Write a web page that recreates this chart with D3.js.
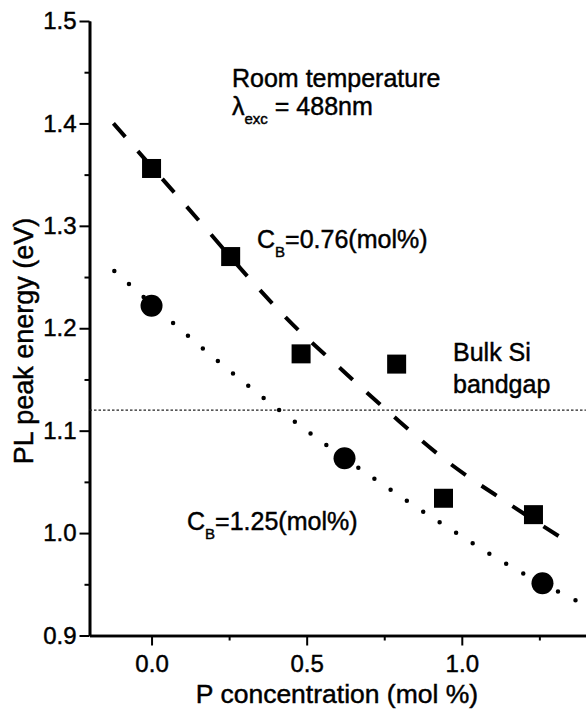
<!DOCTYPE html>
<html lang="en">
  <head>
    <meta charset="UTF-8" />
    <title>PL peak energy</title>
    <style>
      body { margin: 0; background: #fff; }
      svg text {
        font-family: "Liberation Sans", Arial, sans-serif;
        fill: #000;
        stroke: #000;
        stroke-width: 0.45px;
      }
    </style>
  </head>
  <body>
    <script src="https://d3js.org/d3.v7.min.js"></script>
    <script>
      // C_B = 0.76 mol% (squares)
      const pConcSquares = [0.0, 0.255, 0.482, 0.79, 0.941, 1.231];
      const peakSquares = [1.356, 1.27, 1.175, 1.165, 1.034, 1.018];
      // C_B = 1.25 mol% (circles)
      const pConcCircles = [0.0, 0.622, 1.26];
      const peakCircles = [1.222, 1.073, 0.951];

      // fit curves
      const fitDashX = [-0.123, 0.156, 0.326, 0.457, 0.597, 0.78, 0.957, 1.15, 1.328];
      const fitDashY = [1.4, 1.304, 1.245, 1.203, 1.164, 1.114, 1.069, 1.029, 0.994];
      const fitDotX = [-0.12, 0.186, 0.395, 0.55, 0.704, 0.962, 1.166, 1.376];
      const fitDotY = [1.256, 1.175, 1.124, 1.089, 1.056, 1.004, 0.966, 0.933];

      const bulkSiGap = 1.12;

      const xTicks = [0.0, 0.5, 1.0];
      const xMinorTicks = [0.25, 0.75, 1.25];
      const yTicks = [0.9, 1.0, 1.1, 1.2, 1.3, 1.4, 1.5];
      const yMinorTicks = [0.95, 1.05, 1.15, 1.25, 1.35, 1.45];

      const width = 586;
      const height = 717;

      const svg = d3
        .select("body")
        .append("svg")
        .attr("width", width)
        .attr("height", height);

      const x = d3.scaleLinear().domain([-0.2, 1.4]).range([89.5, 585.9]);
      const y = d3.scaleLinear().domain([0.9, 1.5]).range([635.5, 21]);

      // axes
      const styleAxis = (g) => {
        g.selectAll(".domain").attr("stroke-width", 2.6);
        g.selectAll(".tick line").attr("stroke-width", 2);
        g.selectAll("text").attr("font-size", 24).attr("font-family", null);
      };

      svg
        .append("g")
        .attr("transform", `translate(0, ${y(0.9)})`)
        .call(d3.axisBottom(x).tickValues(xMinorTicks).tickSize(5).tickFormat("").tickSizeOuter(0))
        .call(styleAxis);
      svg
        .append("g")
        .attr("transform", `translate(0, ${y(0.9)})`)
        .call(d3.axisBottom(x).tickValues(xTicks).tickSize(10).tickPadding(9).tickSizeOuter(0).tickFormat(d3.format(".1f")))
        .call(styleAxis);

      svg
        .append("g")
        .attr("transform", `translate(${x(-0.2)}, 0)`)
        .call(d3.axisLeft(y).tickValues(yMinorTicks).tickSize(5).tickFormat("").tickSizeOuter(0))
        .call(styleAxis);
      svg
        .append("g")
        .attr("transform", `translate(${x(-0.2)}, 0)`)
        .call(d3.axisLeft(y).tickValues(yTicks).tickSize(10).tickPadding(3).tickSizeOuter(0).tickFormat(d3.format(".1f")))
        .call(styleAxis);

      // bulk Si bandgap reference
      svg
        .append("line")
        .attr("x1", x(-0.2))
        .attr("x2", x(1.4))
        .attr("y1", y(bulkSiGap))
        .attr("y2", y(bulkSiGap))
        .attr("stroke", "#222")
        .attr("stroke-width", 1.2)
        .attr("stroke-dasharray", "2.5,2");

      // fit curves
      const line = d3
        .line()
        .x((d) => x(d[0]))
        .y((d) => y(d[1]))
        .curve(d3.curveMonotoneX);

      svg
        .append("path")
        .datum(d3.zip(fitDashX, fitDashY))
        .attr("d", line)
        .attr("fill", "none")
        .attr("stroke", "#000")
        .attr("stroke-width", 4)
        .attr("stroke-dasharray", "18,19");

      svg
        .append("path")
        .datum(d3.zip(fitDotX, fitDotY))
        .attr("d", line)
        .attr("fill", "none")
        .attr("stroke", "#000")
        .attr("stroke-width", 4.5)
        .attr("stroke-linecap", "round")
        .attr("stroke-dasharray", "0,19.6");

      // markers
      const sq = 19;
      svg
        .append("g")
        .selectAll("rect")
        .data(d3.zip(pConcSquares, peakSquares))
        .join("rect")
        .attr("x", (d) => x(d[0]) - sq / 2)
        .attr("y", (d) => y(d[1]) - sq / 2)
        .attr("width", sq)
        .attr("height", sq)
        .attr("fill", "#000");

      svg
        .append("g")
        .selectAll("circle")
        .data(d3.zip(pConcCircles, peakCircles))
        .join("circle")
        .attr("cx", (d) => x(d[0]))
        .attr("cy", (d) => y(d[1]))
        .attr("r", 11)
        .attr("fill", "#000");

      // axis titles
      svg
        .append("text")
        .attr("x", 337)
        .attr("y", 703)
        .attr("text-anchor", "middle")
        .attr("font-size", 26.5)
        .text("P concentration (mol %)");

      svg
        .append("text")
        .attr("transform", "translate(33, 341) rotate(-90)")
        .attr("text-anchor", "middle")
        .attr("font-size", 27)
        .text("PL peak energy (eV)");

      // annotations
      const note = (px, py) =>
        svg.append("text").attr("x", px).attr("y", py).attr("font-size", 25);

      note(232, 87).text("Room temperature");

      const lam = note(232, 115);
      lam.append("tspan").text("λ");
      lam.append("tspan").attr("font-size", 15).attr("dy", 9).text("exc");
      lam.append("tspan").attr("dy", -9).text(" = 488nm");

      const cb1 = note(257, 248);
      cb1.append("tspan").text("C");
      cb1.append("tspan").attr("font-size", 15).attr("dy", 9).text("B");
      cb1.append("tspan").attr("dy", -9).text("=0.76(mol%)");

      const cb2 = note(187, 530);
      cb2.append("tspan").text("C");
      cb2.append("tspan").attr("font-size", 15).attr("dy", 9).text("B");
      cb2.append("tspan").attr("dy", -9).text("=1.25(mol%)");

      note(453, 361).text("Bulk Si");
      note(453, 393).text("bandgap");
    </script>
  </body>
</html>
